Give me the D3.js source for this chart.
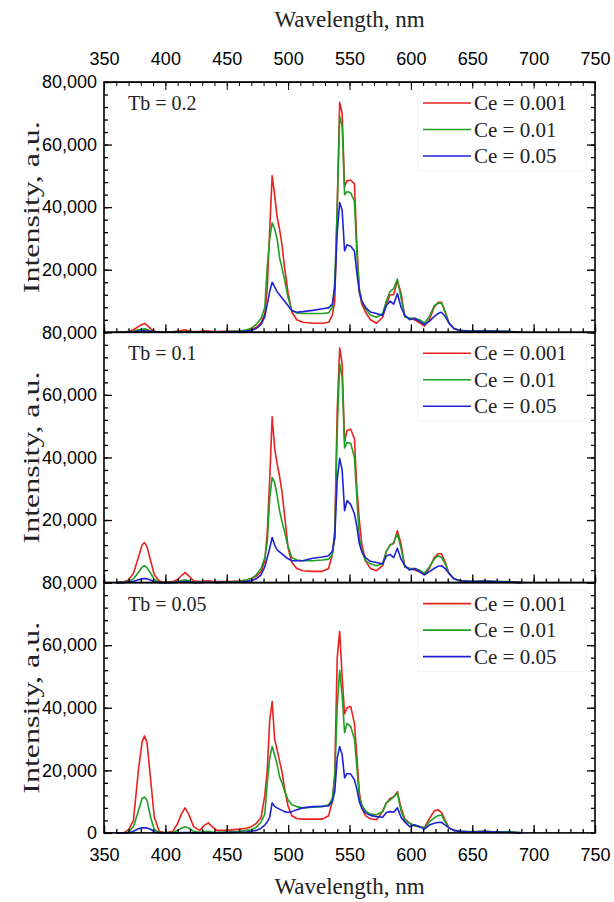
<!DOCTYPE html>
<html>
<head>
<meta charset="utf-8">
<script src="https://d3js.org/d3.v7.min.js"></script>
<style>
body{margin:0;background:#fff;}
.tick text{font-family:"Liberation Sans",Arial,sans-serif;font-size:18px;fill:#000;}
.serif{font-family:"Liberation Serif","Times New Roman",serif;fill:#222;}
</style>
</head>
<body>
<div id="chart"></div>
<script>
// wavelength grid (nm)
var wl = [360,366,370,374,378,381,383,385,388,391,395,400,406,410,413,416,419,423,428,432,
	435,438,442,450,460,466,470,474,478,481,483,485,487,489,491,493,495,497,500,503,
	507,512,520,528,533,536,538,540,542,544,546,548,551,554,556,558,560,563,567,572,
	577,580,583,586,589,592,595,599,603,607,611,615,619,622,625,628,631,635,640,650,
	660,670,680,690];

// intensities, thousands of a.u.  -- Tb = 0.2
var red02 = [0,0,0.3,0.8,1.8,2.5,2.8,2.3,1.2,0.4, 0,0,0.2,0.4,0.6,0.8,0.5,0.2,0.3,0.5,
	0.4,0.3,0.2,0.3,0.4,0.6,0.9,1.5,3,6, 14,33,50,44,37,33,28,21,12.5,6.5,
	4,3.2,2.9,2.9,3.2,5.5,10,40,73.5,70, 46.5,48.5,48.6,47.5,28,13,9,6.5,4,2.9,
	4.8,9,12,12,16.5,12.5,5,4.5,4,3, 2,4,8,9.5,9.6,6.5,3,1.2,0.5,0.3, 0.6,0.3,0.2,0];
var green02 = [0,0,0.2,0.4,0.8,1,1.1,0.9,0.5,0.2, 0,0,0,0.1,0.2,0.3,0.2,0,0.1,0.2,
	0.2,0.1,0.1,0.2,0.4,0.8,1.3,2.5,4.5,8, 21,30,35,33,30,24,20.5,17,11,7,
	6.2,6,6,6,6.2,8,16,40,69,66, 44,45,44.5,42,25,14,10,7.5,5.5,4.8,
	6,10,13,14,17,11,5,4.5,4.5,4, 3,5,8.5,9.2,9.4,6.5,3,1.2,0.6,0.4, 0.5,0.3,0.3,0];
var blue02 = [0,0,0.1,0.2,0.4,0.5,0.5,0.5,0.3,0.1, 0,0,0,0,0.1,0.1,0.1,0,0,0.1,
	0.1,0.1,0,0.1,0.2,0.4,0.6,1.2,2.5,5, 9,13,16,14.5,13,12,11,10,8.5,7,
	6.4,6.6,7,7.5,7.8,9,14,32,41.5,39, 26,28,27.5,26,19,13,10,8,6.5,6,
	5.4,8.5,10,9,12.4,8,5.5,4,4.5,3.5, 2.5,3.5,5,6,6.4,5,3,1.2,0.6,0.3, 0.4,0.3,0.2,0];

// Tb = 0.1
var red01 = [0,0.2,0.8,3,8,12,12.8,11.5,7,2.5, 0.5,0,0.3,1,2.2,3.2,2.2,0.6,0.3,0.5,
	0.6,0.4,0.3,0.3,0.5,0.8,1.2,2,3.5,7, 16,33,53,43,38,34,29,22,11,6.5,
	4.5,3.8,3.6,3.6,4.5,9,16.6,55,75,70, 45,48.6,49,46,30,20,12.4,7,4.5,3.8,
	5.4,10,12,12.5,16.6,12.4,5,4.5,4,3.5, 2.5,4.5,8,9.2,9.2,6.5,3,1.2,0.6,0.3, 0.5,0.3,0.2,0];
var green01 = [0,0.1,0.4,1.2,3.2,5,5.4,4.8,3,1, 0.2,0,0.1,0.3,0.6,0.9,0.6,0.2,0.1,0.2,
	0.2,0.1,0.1,0.2,0.4,0.8,1.3,2.5,4.5,8, 13,27,33.6,32,28,23,19.5,16.5,11.5,8,
	7.2,7,7,7.2,7.5,9,14.4,48.6,70,65.6, 43,44.8,44.5,40,27,14.4,10,7,6,5.4,
	6,10,12,12.8,15.6,11,5,4.5,4.5,4, 3,5,7.5,8.6,8,6,3,1.2,0.6,0.4, 0.5,0.3,0.3,0];
var blue01 = [0,0,0.2,0.4,0.9,1.2,1.3,1.2,0.8,0.3, 0,0,0,0.1,0.2,0.3,0.2,0,0,0.1,
	0.1,0.1,0,0.1,0.2,0.4,0.6,1.2,2.5,5, 8,11,14.4,12,10.5,9.8,9.2,8.5,7.6,7,
	7,7,7.8,8.2,8.6,10,14.4,33,39.7,36, 23,26.2,25,22,18,12.4,10,8,6.8,6.4,
	6,8.5,9,8,11,7.5,5.5,4,4.5,3.5, 2.5,3.5,4.5,5.2,5.4,4.5,3,1.2,0.6,0.3, 0.4,0.3,0.2,0];

// Tb = 0.05
var red005 = [0,0,1,4,20,29,31,29,17,5, 0.5,0,0.5,3,6,8,6,2,0.8,2.5,
	3.2,2,0.8,0.8,1.2,1.5,2,3,5,12, 20,36,42,30,26.6,23,19.5,14.5,8.5,5.5,
	4.6,4.4,4.4,4.4,5.5,10,19,56,64.4,50, 38,40,40.4,35,24.4,13,8,5.5,4.5,4.2,
	6.8,9.5,11,11.5,13.2,8,4.5,3.1,2.3,2, 1.6,4.5,7,7.4,6.5,4,1.6,0.8,0.5,0.3, 0.5,0.3,0.2,0];
var green005 = [0,0,0.3,2,7,11,11.5,10.5,5,1, 0.2,0,0.2,0.8,1.5,2,1.6,0.5,0.2,0.4,
	0.5,0.3,0.2,0.3,0.5,0.8,1,1.8,3.5,6, 16,24,27.6,25,22,18,16,13.5,10.5,9,
	8.4,8,8.2,8.4,9,11,18,40.4,52,44, 32,35,34,30,21,11.6,9,7,6,5.8,
	6.8,9.6,10.5,11.5,12.8,7,4,3.1,2.3,2, 1.6,3.5,4.8,5.5,5.7,3.5,1.6,0.8,0.5,0.4, 0.5,0.3,0.4,0];
var blue005 = [0,0,0,0.5,1.3,1.6,1.6,1.6,1.2,0.3, 0,0,0,0,0.1,0.1,0.1,0,0,0,
	0,0,0,0.1,0.2,0.3,0.5,0.8,1.5,2.5, 3.5,5,9.6,8.5,8,7.6,7.2,6.8,6.5,6.8,
	7.4,8,8.4,8.5,8.6,10,13.2,24,27.6,25, 17.6,19,18.8,17,14,10,8,6.4,5.6,5.2,
	5,6.5,6.8,6.6,8,5,3.5,2,2.6,2, 1.2,2.5,3.1,3.3,3.4,2.5,1.6,0.8,0.5,0.3, 0.4,0.3,0.2,0];

var panelNames = ["Tb = 0.2","Tb = 0.1","Tb = 0.05"];
var panelData = [[red02,green02,blue02],[red01,green01,blue01],[red005,green005,blue005]];
var seriesNames = ["Ce = 0.001","Ce = 0.01","Ce = 0.05"];
var colors = ["#e8221e","#1f9f24","#1e22d2"];
var xTicks = [350,400,450,500,550,600,650,700,750];
var yTicks = [20000,40000,60000,80000];

var W = 614, H = 902,
	left = 104, right = 595, top0 = 82, ph = 250.3;

var svg = d3.select("#chart").append("svg")
	.attr("width",W).attr("height",H);

var x = d3.scaleLinear().domain([350,750]).range([left,right]);
var minorX = d3.range(350,751,10);
var minorY = d3.range(0,80001,4000);

// top axis (only above first panel)
svg.append("g")
	.attr("transform","translate(0,"+top0+")")
	.call(d3.axisTop(x).tickValues(minorX).tickSize(-4).tickSizeOuter(0).tickFormat(""))
svg.append("g")
	.attr("transform","translate(0,"+top0+")")
	.call(d3.axisTop(x).tickValues(xTicks).tickSize(-8).tickSizeOuter(0).tickPadding(17).tickFormat(d3.format("d")));

svg.append("text").attr("class","serif")
	.attr("x",(left+right)/2).attr("y",27)
	.attr("text-anchor","middle")
	.style("font-size","23px")
	.text("Wavelength, nm");

panelNames.forEach(function(name,p){
	var t = top0 + p*ph, b = t + ph;
	var y = d3.scaleLinear().domain([0,80000]).range([b,t]);
	var g = svg.append("g");

	// spectra
	var line = d3.line()
		.x(function(d,i){return x(wl[i]);})
		.y(function(d){return y(d*1000);});
	panelData[p].forEach(function(arr,s){
		g.append("path")
			.datum(arr)
			.attr("d",line)
			.attr("fill","none")
			.attr("stroke",colors[s])
			.attr("stroke-width",1.6)
			.attr("stroke-linejoin","round");
	});

	// ticks, all pointing inward
	g.append("g").attr("transform","translate("+left+",0)")
		.call(d3.axisLeft(y).tickValues(minorY).tickSize(-4).tickSizeOuter(0).tickFormat(""));
	var labs = p==2 ? [0].concat(yTicks) : yTicks;
	g.append("g").attr("transform","translate("+left+",0)")
		.call(d3.axisLeft(y).tickValues(labs).tickSize(-8).tickSizeOuter(0).tickPadding(7).tickFormat(d3.format(",")));
	g.append("g").attr("transform","translate("+right+",0)")
		.call(d3.axisRight(y).tickValues(minorY).tickSize(-4).tickSizeOuter(0).tickFormat(""));
	g.append("g").attr("transform","translate("+right+",0)")
		.call(d3.axisRight(y).tickValues(yTicks).tickSize(-8).tickSizeOuter(0).tickFormat(""));
	g.append("g").attr("transform","translate(0,"+b+")")
		.call(d3.axisBottom(x).tickValues(minorX).tickSize(-4).tickSizeOuter(0).tickFormat(""));
	g.append("g").attr("transform","translate(0,"+b+")")
		.call(d3.axisBottom(x).tickValues(xTicks).tickSize(-8).tickSizeOuter(0).tickPadding(15)
			.tickFormat(p==2 ? d3.format("d") : ""));

	g.selectAll(".domain").remove();
	g.selectAll(".tick line").attr("stroke","#000").attr("stroke-width",1.3);

	// frame
	g.append("rect")
		.attr("x",left).attr("y",t).attr("width",right-left).attr("height",ph)
		.attr("fill","none").attr("stroke","#000").attr("stroke-width",1.6);

	g.append("text").attr("class","serif")
		.attr("x",128).attr("y",t+28)
		.style("font-size","20px")
		.text(name);

	// legend
	var leg = g.append("g");
	leg.append("rect")
		.attr("x",418).attr("y",t+7).attr("width",168).attr("height",82)
		.attr("fill","#fff").attr("stroke","#f6f6f6");
	seriesNames.forEach(function(s,i){
		var ly = t + 21 + i*26.5;
		leg.append("line")
			.attr("x1",423).attr("x2",471).attr("y1",ly).attr("y2",ly)
			.attr("stroke",colors[i]).attr("stroke-width",1.6);
		leg.append("text").attr("class","serif")
			.attr("x",474).attr("y",ly+7)
			.style("font-size","21px")
			.text(s);
	});

	// y title
	svg.append("text").attr("class","serif")
		.attr("text-anchor","middle")
		.attr("transform","translate(39,"+(t+ph/2)+")rotate(-90)")
		.attr("textLength",172).attr("lengthAdjust","spacingAndGlyphs")
		.style("font-size","24px")
		.text("Intensity, a.u.");
});

svg.append("text").attr("class","serif")
	.attr("x",(left+right)/2).attr("y",894)
	.attr("text-anchor","middle")
	.style("font-size","23px")
	.text("Wavelength, nm");
svg.selectAll(".tick text").attr("fill","#000");
</script>
</body>
</html>
